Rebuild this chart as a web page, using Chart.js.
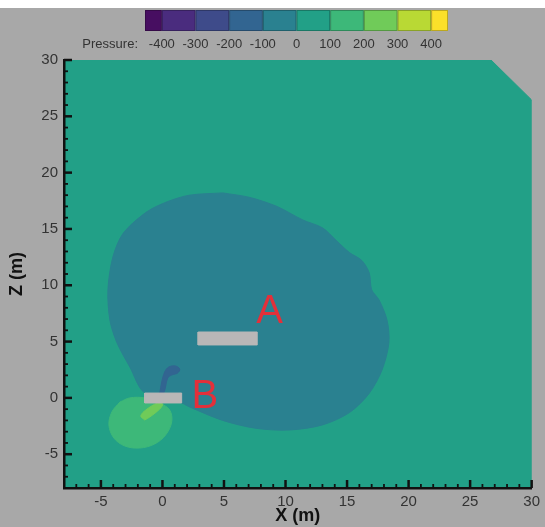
<!DOCTYPE html>
<html><head><meta charset="utf-8">
<script src="https://cdn.jsdelivr.net/npm/chart.js@4/dist/chart.umd.min.js"></script>
<style>
html,body{margin:0;padding:0;background:#a8a8a8;}
#wrap{width:545px;height:527px;position:relative;}
</style></head><body>
<div id="wrap"><canvas id="c" width="545" height="527"></canvas></div>
<script>
// Colour levels of the pressure legend (viridis, 10 bands)
const levelColors = ['#470e61','#4a2c7e','#3e4b8a','#326591','#2a8190','#22a087','#3db879','#70cb59','#b9d934','#fbe02a'];
const levelBounds = [-450,-350,-250,-150,-50,50,150,250,350,450];
const levelBoundsTrue = [-450,-400,-300,-200,-100,0,100,200,300,400,450];
const levelTicks = [-400,-300,-200,-100,0,100,200,300,400];

// Domain outline (pressure 0..100)
const domainX = [-8, 30, 30, 26.7, -8, -8];
const domainZ = [-8, -8, 26.45, 30, 30, -8];

// Low-pressure region (-100..0)
const blobX = [4.9, 7.1, 9.3, 11.4, 13.0, 14.1, 15.2, 16.2, 16.8, 17.0, 17.6, 18.25, 18.4, 17.85, 16.8, 15.2, 13.0, 10.3, 7.6, 4.9, 2.2, 1.56, -1.44, -2.65, -3.7, -4.27, -4.43, -4.03, -3.2, -1.3, 0.35, 2.2, 4.9];
const blobZ = [18.2, 17.8, 17.0, 15.8, 15.1, 14.0, 12.9, 12.2, 11.1, 9.6, 8.7, 6.9, 4.9, 2.5, 0.4, -1.3, -2.4, -2.85, -2.7, -2.0, -0.8, -0.45, 0.43, 2.74, 4.9, 6.9, 9.6, 12.5, 14.6, 16.5, 17.4, 18.0, 18.2];

// High-pressure region (100..200)
const greenX = [-3.46, -4.11, -4.35, -3.95, -3.06, -1.84, -0.63, 0.26, 0.75, 0.59, -0.22, -1.44, -2.65, -3.46];
const greenZ = [-0.37, -1.25, -2.41, -3.56, -4.27, -4.45, -4.09, -3.29, -2.14, -1.08, -0.45, 0.0, 0.0, -0.37];

// Higher-pressure streak (200..300)
const lightX = [-1.44, -1.76, -1.36, -0.38, 0.02, -0.22, -1.03, -1.44];
const lightZ = [-1.96, -1.61, -1.08, -0.45, -0.54, -0.99, -1.70, -1.96];

// Suction streak (-200..-100)
const darkX = [-0.22, 0.1, 0.43, 0.75, 1.24, 1.40, 1.07, 0.51, 0.18, -0.06, -0.22];
const darkZ = [0.43, 0.43, 1.77, 2.03, 2.21, 2.56, 2.83, 2.74, 2.30, 1.41, 0.43];

// Bodies A and B
const barAX = [2.9, 7.7, 7.7, 2.9, 2.9];
const barAZ = [4.7, 4.7, 5.85, 5.85, 4.7];
const barBX = [-1.44, 1.56, 1.56, -1.44, -1.44];
const barBZ = [-0.45, -0.45, 0.43, 0.43, -0.45];

const markNames = ['A', 'B'];
const markX = [8.7, 3.45];
const markZ = [6.65, -0.9];

const xTicksMajor = [-5, 0, 5, 10, 15, 20, 25, 30];

function pts(xs, zs){ return xs.map((x,i)=>({x:x, y:zs[i]})); }
function region(xs, zs, color, order, tension){
  return {data: pts(xs, zs), showLine: true, fill: 'shape', backgroundColor: color,
          borderColor: color, borderWidth: 1, pointRadius: 0, tension: tension, order: order};
}

Chart.defaults.font.family = "'Liberation Sans', Arial, sans-serif";

const bgPlugin = {
  id: 'bg',
  beforeDraw(chart){
    const ctx = chart.ctx;
    ctx.save();
    ctx.fillStyle = '#a8a8a8';
    ctx.fillRect(0, 0, chart.width, chart.height);
    ctx.fillStyle = '#ffffff';
    ctx.fillRect(0, 0, chart.width, 8);
    ctx.restore();
  }
};

const colorbarPlugin = {
  id: 'colorbar',
  afterDraw(chart){
    const ctx = chart.ctx;
    const L = 145, R = 448, T = 10, H = 21;
    const map = v => L + (v - levelBoundsTrue[0]) / (levelBoundsTrue[levelBoundsTrue.length-1] - levelBoundsTrue[0]) * (R - L);
    ctx.save();
    for (let i = 0; i < levelColors.length; i++){
      const a = map(levelBoundsTrue[i]), b = map(levelBoundsTrue[i+1]);
      ctx.fillStyle = levelColors[i];
      ctx.fillRect(a, T, b - a, H);
      ctx.strokeStyle = 'rgba(0,0,0,0.25)';
      ctx.lineWidth = 1;
      ctx.strokeRect(a + 0.5, T + 0.5, b - a - 1, H - 1);
    }
    ctx.fillStyle = '#333';
    ctx.font = "13px 'Liberation Sans', Arial, sans-serif";
    ctx.textBaseline = 'middle';
    ctx.textAlign = 'center';
    levelTicks.forEach(v => ctx.fillText(String(v), map(v), 44));
    ctx.textAlign = 'right';
    ctx.fillText('Pressure:', 138, 44);
    ctx.restore();
  }
};

const ticksPlugin = {
  id: 'inticks',
  afterDraw(chart){
    const ctx = chart.ctx, xs = chart.scales.x, ys = chart.scales.y;
    const a = chart.chartArea;
    ctx.save();
    ctx.strokeStyle = '#111';
    for (let v = Math.ceil(xs.min); v <= xs.max; v++){
      if (v === xs.min) continue;
      const p = xs.getPixelForValue(v), major = v % 5 === 0;
      ctx.lineWidth = major ? 2.5 : 1.8;
      ctx.beginPath(); ctx.moveTo(p, a.bottom); ctx.lineTo(p, a.bottom - (major ? 8 : 4)); ctx.stroke();
    }
    for (let v = Math.ceil(ys.min); v <= ys.max; v++){
      if (v === ys.min) continue;
      const p = ys.getPixelForValue(v), major = v % 5 === 0;
      ctx.lineWidth = major ? 2.5 : 1.8;
      ctx.beginPath(); ctx.moveTo(a.left, p); ctx.lineTo(a.left + (major ? 8 : 4), p); ctx.stroke();
    }
    ctx.restore();
  }
};

const marksPlugin = {
  id: 'marks',
  afterDatasetsDraw(chart){
    const ctx = chart.ctx, xs = chart.scales.x, ys = chart.scales.y;
    ctx.save();
    ctx.fillStyle = '#e2303a';
    ctx.font = "40px 'Liberation Sans', Arial, sans-serif";
    ctx.textAlign = 'center';
    ctx.textBaseline = 'alphabetic';
    markNames.forEach((t, i) => ctx.fillText(t, xs.getPixelForValue(markX[i]), ys.getPixelForValue(markZ[i])));
    ctx.restore();
  }
};

new Chart(document.getElementById('c'), {
  type: 'scatter',
  data: {
    datasets: [
      region(barAX, barAZ, '#b9b7b7', 1, 0),
      region(barBX, barBZ, '#b9b7b7', 2, 0),
      region(darkX, darkZ, levelColors[3], 3, 0.35),
      region(lightX, lightZ, levelColors[7], 4, 0.35),
      region(greenX, greenZ, levelColors[6], 5, 0.35),
      region(blobX, blobZ, levelColors[4], 6, 0.3),
      region(domainX, domainZ, levelColors[5], 7, 0)
    ]
  },
  options: {
    responsive: false,
    animation: false,
    events: [],
    layout: { padding: { top: 60, right: 12, left: 0, bottom: 0 } },
    plugins: { legend: { display: false }, tooltip: { enabled: false } },
    scales: {
      x: {
        type: 'linear', min: -8, max: 30,
        border: { display: true, color: '#111', width: 2.5, z: 1 },
        grid: { display: false, drawTicks: false },
        ticks: { stepSize: 5, color: '#333', font: { size: 15 }, padding: 5, maxRotation: 0 },
        title: { display: true, text: 'X (m)', color: '#111', font: { size: 18, weight: 'bold' }, padding: 0 },
        afterBuildTicks: s => { s.ticks = xTicksMajor.map(v => ({ value: v })); },
        afterFit: s => { s.height = 39; }
      },
      y: {
        type: 'linear', min: -8, max: 30,
        border: { display: true, color: '#111', width: 2.5, z: 1 },
        grid: { display: false, drawTicks: false },
        ticks: { stepSize: 5, color: '#333', font: { size: 15 }, padding: 6 },
        title: { display: true, text: 'Z (m)', color: '#111', font: { size: 18, weight: 'bold' }, padding: { top: 6, bottom: 0 } },
        afterBuildTicks: s => { s.ticks = s.ticks.filter(t => t.value % 5 === 0); },
        afterFit: s => { s.width = 64; }
      }
    }
  },
  plugins: [bgPlugin, colorbarPlugin, ticksPlugin, marksPlugin]
});
</script>
</body></html>
